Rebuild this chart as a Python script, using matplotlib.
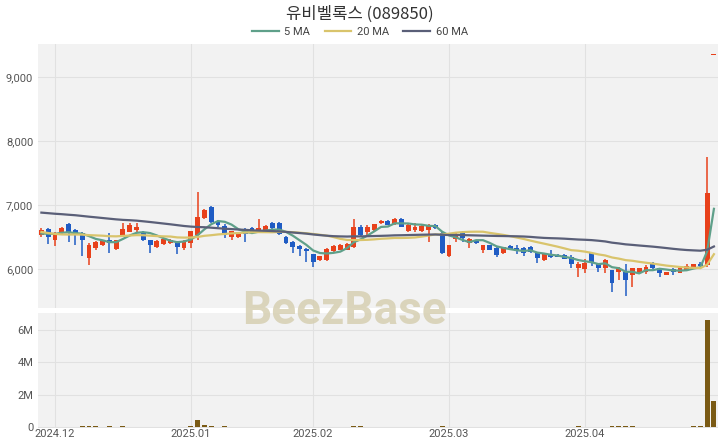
import numpy as np
import pandas as pd
import matplotlib
matplotlib.use("Agg")
import matplotlib.pyplot as plt
from matplotlib.ticker import FuncFormatter, FixedLocator

plt.rcParams['font.family'] = ['Roboto', 'Noto Sans CJK KR', 'DejaVu Sans']

title = "유비벨록스 (089850)"

# trading days (KRX holidays removed)
holidays = ["2024-12-25", "2024-12-31", "2025-01-01", "2025-01-27", "2025-01-28",
            "2025-01-29", "2025-01-30", "2025-03-03"]
dates = pd.bdate_range("2024-11-28", "2025-04-28", freq="C", holidays=holidays)

# closes before the first visible day (only used to warm up the moving averages)
prior_close = [7020, 7100, 7050, 7080, 7010, 7120, 7060, 7030, 7090, 7040, 7070, 7110, 7000, 7060, 7080, 7040,
               7150, 7200, 7180, 7130, 7220, 7160, 7190, 7140, 7170, 7160,
               7000, 6960, 6940, 6900, 6950, 6910, 6880, 6900,
               6880, 6860, 6900, 6840, 6820, 6870, 6830, 6850, 6800,
               6600, 6520, 6480, 6550, 6500, 6540, 6560, 6490,
               6500, 6560, 6540, 6480, 6520, 6570, 6550, 6520]

opens = [6530, 6625, 6450, 6560, 6700, 6610, 6560, 6170, 6330, 6375,
         6450, 6310, 6530, 6580, 6610, 6580, 6450, 6345, 6390, 6400,
         6420, 6330, 6400, 6530, 6800, 6970, 6735, 6670, 6500, 6500,
         6610, 6640, 6590, 6590, 6720, 6720, 6500, 6420, 6360, 6310,
         6235, 6140, 6140, 6280, 6300, 6300, 6345, 6660, 6580, 6610,
         6720, 6750, 6700, 6780, 6590, 6610, 6590, 6610, 6690, 6560,
         6200, 6470, 6560, 6400, 6450, 6300, 6375, 6330, 6250, 6360,
         6330, 6330, 6345, 6250, 6140, 6235, 6220, 6220, 6190, 6015,
         6000, 6250, 6080, 6015, 5985, 5955, 5955, 5905, 5940, 5955,
         6095, 6015, 5905, 6000, 5940, 5985, 6015, 6080, 6060, 9340]
highs = [6640, 6640, 6580, 6660, 6720, 6630, 6570, 6400, 6440, 6460,
         6560, 6460, 6720, 6720, 6720, 6600, 6460, 6450, 6480, 6470,
         6430, 6450, 6600, 7200, 6940, 6980, 6760, 6700, 6600, 6580,
         6640, 6660, 6780, 6680, 6730, 6730, 6510, 6430, 6370, 6320,
         6240, 6210, 6320, 6370, 6390, 6400, 6780, 6680, 6690, 6710,
         6760, 6760, 6790, 6790, 6700, 6720, 6680, 6700, 6700, 6570,
         6380, 6560, 6600, 6480, 6460, 6380, 6380, 6340, 6350, 6370,
         6380, 6340, 6360, 6260, 6240, 6290, 6230, 6230, 6220, 6110,
         6160, 6260, 6100, 6150, 5990, 6030, 6080, 6020, 6020, 6060,
         6110, 6020, 5960, 6020, 6020, 6080, 6085, 6110, 7750, 9340]
lows = [6500, 6390, 6360, 6540, 6420, 6375, 6200, 6060, 6300, 6360,
        6250, 6300, 6520, 6570, 6580, 6440, 6250, 6330, 6380, 6390,
        6235, 6300, 6330, 6450, 6780, 6720, 6660, 6480, 6450, 6480,
        6420, 6570, 6580, 6580, 6620, 6530, 6390, 6250, 6200, 6110,
        6030, 6130, 6130, 6270, 6290, 6290, 6330, 6520, 6500, 6600,
        6710, 6680, 6690, 6650, 6580, 6580, 6580, 6420, 6630, 6240,
        6190, 6420, 6420, 6330, 6395, 6250, 6290, 6190, 6240, 6300,
        6240, 6200, 6255, 6090, 6130, 6170, 6180, 6150, 6020, 5875,
        5940, 6040, 5950, 5940, 5640, 5830, 5580, 5720, 5930, 5920,
        6000, 5880, 5900, 5910, 5935, 5980, 6010, 6040, 6030, 9340]
closes = [6610, 6500, 6560, 6640, 6560, 6545, 6450, 6375, 6420, 6450,
          6400, 6450, 6625, 6690, 6660, 6450, 6380, 6440, 6470, 6460,
          6340, 6440, 6590, 6810, 6920, 6735, 6690, 6530, 6590, 6560,
          6545, 6580, 6640, 6670, 6640, 6550, 6400, 6345, 6310, 6280,
          6110, 6200, 6310, 6360, 6375, 6390, 6660, 6530, 6660, 6700,
          6735, 6690, 6780, 6660, 6690, 6660, 6670, 6690, 6640, 6250,
          6375, 6515, 6485, 6470, 6405, 6375, 6300, 6220, 6345, 6310,
          6285, 6250, 6265, 6170, 6235, 6190, 6190, 6160, 6080, 6080,
          6095, 6110, 6015, 6140, 5780, 6015, 5830, 6015, 6015, 6030,
          6015, 5940, 5955, 5945, 6015, 6045, 6075, 6050, 7190, 9340]
volumes = [25000, 32000, 28000, 20000, 30000, 22000, 45000, 60000, 38000, 30000,
           35000, 28000, 40000, 30000, 25000, 22000, 30000, 18000, 15000, 20000,
           25000, 30000, 60000, 440000, 110000, 50000, 30000, 35000, 25000, 20000,
           18000, 15000, 25000, 20000, 22000, 28000, 30000, 25000, 20000, 22000,
           30000, 18000, 25000, 20000, 22000, 30000, 55000, 40000, 30000, 25000,
           20000, 18000, 22000, 25000, 20000, 18000, 15000, 20000, 18000, 35000,
           25000, 20000, 18000, 15000, 20000, 22000, 30000, 25000, 20000, 18000,
           20000, 22000, 18000, 30000, 25000, 20000, 18000, 20000, 25000, 35000,
           30000, 25000, 28000, 30000, 45000, 60000, 75000, 40000, 30000, 25000,
           20000, 22000, 18000, 20000, 25000, 30000, 35000, 40000, 6650000, 1600000]

ma_windows = [5, 20, 60]
ma_colors = ['#5fa08a', '#d9c46c', '#5a5f78']

up_color = '#e8411b'
down_color = '#1f5cc4'
vol_color = '#7a5a14'
bg = '#f2f2f2'
grid_c = '#e1e1e1'
label_c = '#555555'

# moving averages
all_close = pd.Series(prior_close + closes, dtype=float)
n_prior = len(prior_close)
ma = {w: all_close.rolling(w).mean().values[n_prior:] for w in ma_windows}

x = np.arange(len(closes))
o = np.array(opens, dtype=float)
h = np.array(highs, dtype=float)
l = np.array(lows, dtype=float)
c = np.array(closes, dtype=float)
up = c >= o
colors = np.where(up, up_color, down_color)

fig = plt.figure(figsize=(7.2, 4.48), dpi=100)
ax = fig.add_axes([38 / 720, 1 - 308 / 448, 680 / 720, 264 / 448])
axv = fig.add_axes([38 / 720, 1 - 428 / 448, 680 / 720, 115 / 448], sharex=ax)

for a in (ax, axv):
    a.set_facecolor(bg)
    for s in a.spines.values():
        s.set_visible(False)
    a.tick_params(length=0, labelsize=8, labelcolor=label_c)
    a.set_axisbelow(True)

# candles
body_bottom = np.minimum(o, c)
body_h = np.maximum(np.abs(c - o), 22)
ax.vlines(x, l, h, colors=colors, linewidth=1.1, zorder=2)
ax.bar(x, body_h, bottom=body_bottom, width=0.72, color=colors, linewidth=0, zorder=3)

for w, col in zip(ma_windows, ma_colors):
    ax.plot(x, ma[w], color=col, linewidth=1.6, label=f"{w} MA", zorder=4)

ax.set_xlim(-0.5, 99.6)
ax.set_ylim(5390, 9516)
ax.set_yticks([6000, 7000, 8000, 9000])
ax.yaxis.set_major_formatter(FuncFormatter(lambda v, p: f"{int(v):,}"))
ax.xaxis.set_major_locator(FixedLocator([0, 20, 40, 60, 80]))
ax.grid(True, color=grid_c, linewidth=0.8)
plt.setp(ax.get_xticklabels(), visible=False)

# volume
axv.bar(x, volumes, width=0.72, color=vol_color, linewidth=0)
axv.set_ylim(-60000, 7060000)
axv.set_yticks([0, 2e6, 4e6, 6e6])
axv.yaxis.set_major_formatter(FuncFormatter(lambda v, p: "0" if v == 0 else f"{int(v / 1e6)}M"))

month = dates.to_period("M")
tick_idx = [i for i in range(1, len(dates)) if month[i] != month[i - 1]]
tick_lab = [dates[i].strftime("%Y.%m") for i in tick_idx]
axv.set_xticks(tick_idx)
axv.set_xticklabels(tick_lab)
axv.tick_params(axis='x', pad=1)
axv.grid(True, color=grid_c, linewidth=0.8)

fig.text(0.5, 1 - 14 / 448, title, ha='center', va='center', fontsize=12, color='#333333',
         family=['Noto Sans CJK KR', 'DejaVu Sans'])
fig.legend(*ax.get_legend_handles_labels(), loc='center', bbox_to_anchor=(0.5, 1 - 32 / 448), ncol=3,
           frameon=False, fontsize=8, handlelength=2.4, columnspacing=1.3, handletextpad=0.5,
           labelcolor='#444444')

fig.text(0.478, 1 - 311 / 448, "BeezBase", ha='center', va='center', fontsize=33, weight='bold',
         color='#d6cfb2', alpha=0.85, zorder=10)

fig.savefig("out.png", dpi=100, facecolor='white')
